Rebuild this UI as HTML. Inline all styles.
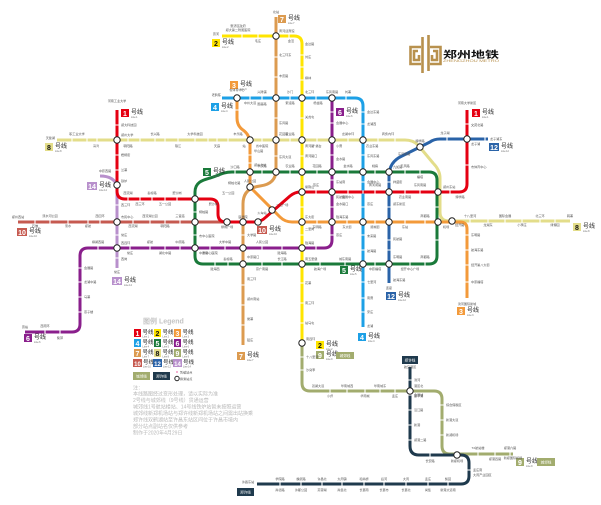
<!DOCTYPE html>
<html><head><meta charset="utf-8">
<style>
html,body{margin:0;padding:0;background:#fff;}
svg{display:block;}
text{font-family:"Liberation Sans","Noto Sans CJK SC",sans-serif;}
.n{font-size:7px;font-weight:bold;fill:#fff;text-anchor:middle;}
.nb{fill:#111;}
.h{font-size:6px;fill:#222;}
.e{font-size:2.4px;fill:#666;}
.s{font-size:3.1px;fill:#555;}
.m{text-anchor:middle;}
.r{text-anchor:end;}
.nt{font-size:5px;fill:#b8b8b8;}
.ln{fill:none;stroke-width:3;stroke-linejoin:round;stroke-linecap:butt;}
.tk{fill:none;stroke:#fff;stroke-width:1.1;}
.ic{fill:#fff;stroke:#222;stroke-width:1;}
</style></head><body>
<svg width="601" height="505" viewBox="0 0 601 505" xmlns="http://www.w3.org/2000/svg">
<rect width="601" height="505" fill="#fff"/>

<!-- Lines -->
<path class="ln" stroke="#C65A50" d="M18,222 H258"/>
<path class="ln" stroke="#E3DD8A" d="M57,140 H405 Q413,140 418,145 L433,163 Q440,170 440,178 V212 Q440,221 449,221 H570"/>
<path class="ln" stroke="#A2AC6E" d="M302,343 V383 Q302,391 310,391 H434 Q442,391 442,399 V446 Q442,454 450,454 H513"/>
<path class="ln" stroke="#1F3A4D" d="M410,367 V446 Q410,455 419,455 H461 Q469,455 469,463 V476 Q469,484 461,484 H257"/>
<path class="ln" stroke="#B890CC" d="M100,176 Q114,176 117,186 V268"/>
<path class="ln" stroke="#2A63A8" d="M389,283 V176 Q389,162 402,156 L420,147 L430,142 Q434,139 440,139 H488"/>
<path class="ln" stroke="#1A7A3A" d="M232,172 H429 Q437,172 437,180 V256 Q437,264 429,264 H203 Q195,264 195,256 V192 C195,182 203,180 210,178 C218,176 222,172 232,172 Z"/>
<path class="ln" stroke="#8A1F8C" d="M332,98 V240 Q332,248 324,248 H88 Q80,248 80,256 V324 Q80,332 72,332 H25"/>
<path class="ln" stroke="#DC9B50" d="M276,17 V170 Q276,184 260,186 Q243,188 243,204 V345"/>
<path class="ln" stroke="#F39A3A" d="M237,98 V118 Q237,126 243,130 Q250,135 250,144 V187 L280,217 Q285,222 292,222 H460 Q467,222 467,229 V298"/>
<path class="ln" stroke="#1DA0E6" d="M222,98 H355 Q363,98 363,106 V327"/>
<path class="ln" stroke="#FFE500" d="M222,36 H294 Q302,36 302,44 V343"/>
<path class="ln" stroke="#E50012" d="M467,110 V184 Q467,192 459,192 H300 Q295,192 290,196 L266,217 Q261,222 255,222 H226 Q218,222 218,214 V207 Q218,199 210,199 H125 Q117,199 117,191 V110"/>

<!-- Station ticks -->
<path class="tk" d="
M242,34.2v3.6 M258,34.2v3.6 M289,34.2v3.6
M250,96.2v3.6 M262,96.2v3.6 M290,96.2v3.6 M316,96.2v3.6 M346,96.2v3.6
M72,138.2v3.6 M87,138.2v3.6 M97,138.2v3.6 M128,138.2v3.6 M140,138.2v3.6 M155,138.2v3.6 M165,138.2v3.6 M178,138.2v3.6 M195,138.2v3.6 M208,138.2v3.6 M217,138.2v3.6 M228,138.2v3.6 M262,138.2v3.6 M290,138.2v3.6 M317,138.2v3.6 M348,138.2v3.6 M378,138.2v3.6 M395,138.2v3.6
M470,219.2v3.6 M488,219.2v3.6 M505,219.2v3.6 M522,219.2v3.6 M540,219.2v3.6 M555,219.2v3.6
M128,197.2v3.6 M140,197.2v3.6 M152,197.2v3.6 M165,197.2v3.6 M177,197.2v3.6
M316,190.2v3.6 M348,190.2v3.6 M363,190.2v3.6 M375,190.2v3.6 M405,190.2v3.6 M420,190.2v3.6 M450,190.2v3.6
M35,220.2v3.6 M50,220.2v3.6 M68,220.2v3.6 M88,220.2v3.6 M100,220.2v3.6 M133,220.2v3.6 M150,220.2v3.6 M165,220.2v3.6 M180,220.2v3.6
M98,246.2v3.6 M130,246.2v3.6 M150,246.2v3.6 M165,246.2v3.6 M180,246.2v3.6 M210,246.2v3.6 M225,246.2v3.6 M262,246.2v3.6 M282,246.2v3.6 M316,246.2v3.6
M45,330.2v3.6 M60,330.2v3.6
M235,170.2v3.6 M262,170.2v3.6 M290,170.2v3.6 M317,170.2v3.6 M348,170.2v3.6 M375,170.2v3.6 M405,170.2v3.6 M420,170.2v3.6
M215,262.2v3.6 M228,262.2v3.6 M262,262.2v3.6 M282,262.2v3.6 M320,262.2v3.6 M345,262.2v3.6 M375,262.2v3.6 M410,262.2v3.6 M425,262.2v3.6
M317,220.2v3.6 M347,220.2v3.6 M375,220.2v3.6 M405,220.2v3.6 M425,220.2v3.6
M447,137.2v3.6 M485,137.2v3.6
M330,389.2v3.6 M347,389.2v3.6 M365,389.2v3.6 M380,389.2v3.6 M395,389.2v3.6
M478,452.2v3.6 M495,452.2v3.6 M510,452.2v3.6
M430,453.2v3.6
M280,482.2v3.6 M301,482.2v3.6 M322,482.2v3.6 M342,482.2v3.6 M364,482.2v3.6 M384,482.2v3.6 M406,482.2v3.6 M428,482.2v3.6 M448,482.2v3.6
M274.2,57h3.6 M274.2,77h3.6 M274.2,118h3.6 M274.2,156h3.6
M241.2,235h3.6 M241.2,285h3.6 M241.2,305h3.6 M241.2,325h3.6
M300.2,55h3.6 M300.2,67h3.6 M300.2,80h3.6 M300.2,118h3.6 M300.2,156h3.6 M300.2,207h3.6 M300.2,235h3.6 M300.2,283h3.6 M300.2,303h3.6 M300.2,323h3.6
M361.2,112h3.6 M361.2,124h3.6 M361.2,155h3.6 M361.2,182h3.6 M361.2,207h3.6 M361.2,235h3.6 M361.2,250h3.6 M361.2,282h3.6 M361.2,298h3.6 M361.2,312h3.6
M235.2,110h3.6 M248.2,155h3.6 M248.2,163h3.6
M330.2,112h3.6 M330.2,123h3.6 M330.2,155h3.6 M330.2,180h3.6 M330.2,207h3.6 M330.2,235h3.6
M78.2,268h3.6 M78.2,282h3.6 M78.2,297h3.6 M78.2,312h3.6
M193.2,212h3.6 M193.2,235h3.6 M435.2,207h3.6 M435.2,240h3.6
M115.2,125h3.6 M115.2,155h3.6 M115.2,170h3.6 M115.2,205h3.6 M115.2,235h3.6 M115.2,258h3.6
M387.2,182h3.6 M387.2,207h3.6 M387.2,240h3.6 M387.2,250h3.6
M465.2,124h3.6 M465.2,165h3.6
M465.2,235h3.6 M465.2,250h3.6 M465.2,265h3.6 M465.2,282h3.6
M300.2,357h3.6 M300.2,370h3.6 M440.2,405h3.6 M440.2,420h3.6 M440.2,435h3.6
M408.2,380h3.6 M408.2,395h3.6 M408.2,410h3.6 M408.2,425h3.6 M408.2,440h3.6 M467.2,470h3.6"/>

<!-- Interchange stations -->
<g class="ic">
<circle cx="276" cy="36" r="3.2"/><circle cx="237" cy="98" r="3.2"/><circle cx="276" cy="98" r="3.2"/><circle cx="302" cy="98" r="3.2"/><circle cx="332" cy="98" r="3.2"/>
<circle cx="117" cy="140" r="3.2"/><circle cx="250" cy="140" r="3.2"/><circle cx="276" cy="140" r="3.2"/><circle cx="302" cy="140" r="3.2"/><circle cx="332" cy="140" r="3.2"/><circle cx="363" cy="140" r="3.2"/><circle cx="420" cy="147" r="3.2"/><circle cx="467" cy="139" r="3.2"/>
<circle cx="250" cy="172" r="3.2"/><circle cx="276" cy="172" r="3.2"/><circle cx="302" cy="172" r="3.2"/><circle cx="332" cy="172" r="3.2"/><circle cx="363" cy="172" r="3.2"/><circle cx="389" cy="172" r="3.2"/>
<circle cx="117" cy="185" r="3.2"/><circle cx="250" cy="187" r="3.2"/><circle cx="195" cy="199" r="3.2"/><circle cx="272" cy="210" r="3.2"/><circle cx="302" cy="192" r="3.2"/><circle cx="332" cy="192" r="3.2"/><circle cx="389" cy="192" r="3.2"/><circle cx="438" cy="192" r="3.2"/>
<circle cx="117" cy="222" r="3.2"/><circle cx="195" cy="222" r="3.2"/><circle cx="227" cy="222" r="3.2"/><circle cx="243" cy="222" r="3.2"/><circle cx="258" cy="222" r="3.2"/><circle cx="302" cy="222" r="3.2"/><circle cx="332" cy="222" r="3.2"/><circle cx="363" cy="222" r="3.2"/><circle cx="389" cy="222" r="3.2"/><circle cx="438" cy="222" r="3.2"/><circle cx="452" cy="221" r="3.2"/>
<circle cx="117" cy="248" r="3.2"/><circle cx="195" cy="248" r="3.2"/><circle cx="243" cy="248" r="3.2"/><circle cx="302" cy="248" r="3.2"/>
<circle cx="243" cy="264" r="3.2"/><circle cx="302" cy="264" r="3.2"/><circle cx="363" cy="264" r="3.2"/><circle cx="389" cy="264" r="3.2"/>
<circle cx="302" cy="343" r="3.2"/><circle cx="410" cy="391" r="3.2"/><circle cx="457" cy="455" r="3.2"/>
</g>

<!-- Line badges -->
<g>
<rect x="278" y="15" width="8" height="8" fill="#DC9B50"/><text class="n" x="282" y="22">7</text><text class="h" x="288" y="20">号线</text><text class="e" x="288" y="24">Line 7</text>
<rect x="212" y="39" width="8" height="8" fill="#FFE500"/><text class="n nb" x="216" y="46">2</text><text class="h" x="222" y="44">号线</text><text class="e" x="222" y="48">Line 2</text>
<rect x="230" y="81" width="8" height="8" fill="#F39A3A"/><text class="n" x="234" y="88">3</text><text class="h" x="240" y="86">号线</text><text class="e" x="240" y="90">Line 3</text>
<rect x="211" y="103" width="8" height="8" fill="#1DA0E6"/><text class="n" x="215" y="110">4</text><text class="h" x="221" y="108">号线</text><text class="e" x="221" y="112">Line 4</text>
<rect x="121" y="109" width="8" height="8" fill="#E50012"/><text class="n" x="125" y="116">1</text><text class="h" x="131" y="114">号线</text><text class="e" x="131" y="118">Line 1</text>
<rect x="45" y="143" width="8" height="8" fill="#E3DD8A"/><text class="n nb" x="49" y="150">8</text><text class="h" x="55" y="148">号线</text><text class="e" x="55" y="152">Line 8</text>
<rect x="336" y="108" width="8" height="8" fill="#8A1F8C"/><text class="n" x="340" y="115">6</text><text class="h" x="346" y="113">号线</text><text class="e" x="346" y="117">Line 6</text>
<rect x="472" y="109" width="8" height="8" fill="#E50012"/><text class="n" x="476" y="116">1</text><text class="h" x="482" y="114">号线</text><text class="e" x="482" y="118">Line 1</text>
<rect x="489" y="143" width="10" height="8" fill="#2A63A8"/><text class="n" x="494" y="150">12</text><text class="h" x="501" y="148">号线</text><text class="e" x="501" y="152">Line 12</text>
<rect x="87" y="182" width="10" height="8" fill="#B890CC"/><text class="n" x="92" y="189">14</text><text class="h" x="99" y="187">号线</text><text class="e" x="99" y="191">Line 14</text>
<rect x="17" y="228" width="10" height="8" fill="#C65A50"/><text class="n" x="22" y="235">10</text><text class="h" x="29" y="233">号线</text><text class="e" x="29" y="237">Line 10</text>
<rect x="112" y="277" width="10" height="8" fill="#B890CC"/><text class="n" x="117" y="284">14</text><text class="h" x="124" y="282">号线</text><text class="e" x="124" y="286">Line 14</text>
<rect x="24" y="334" width="8" height="8" fill="#8A1F8C"/><text class="n" x="28" y="341">6</text><text class="h" x="34" y="339">号线</text><text class="e" x="34" y="343">Line 6</text>
<rect x="203" y="168" width="8" height="8" fill="#1A7A3A"/><text class="n" x="207" y="175">5</text><text class="h" x="213" y="173">号线</text><text class="e" x="213" y="177">Line 5</text>
<rect x="257" y="226" width="10" height="8" fill="#C65A50"/><text class="n" x="262" y="233">10</text><text class="h" x="269" y="231">号线</text><text class="e" x="269" y="235">Line 10</text>
<rect x="358" y="333" width="8" height="8" fill="#1DA0E6"/><text class="n" x="362" y="340">4</text><text class="h" x="368" y="338">号线</text><text class="e" x="368" y="342">Line 4</text>
<rect x="386" y="292" width="10" height="8" fill="#2A63A8"/><text class="n" x="391" y="299">12</text><text class="h" x="398" y="297">号线</text><text class="e" x="398" y="301">Line 12</text>
<rect x="457" y="307" width="8" height="8" fill="#F39A3A"/><text class="n" x="461" y="314">3</text><text class="h" x="467" y="312">号线</text><text class="e" x="467" y="316">Line 3</text>
<rect x="237" y="352" width="8" height="8" fill="#DC9B50"/><text class="n" x="241" y="359">7</text><text class="h" x="247" y="357">号线</text><text class="e" x="247" y="361">Line 7</text>
<rect x="340" y="266" width="8" height="8" fill="#1A7A3A"/><text class="n" x="344" y="273">5</text><text class="h" x="350" y="271">号线</text><text class="e" x="350" y="275">Line 5</text>
<rect x="573" y="223" width="8" height="8" fill="#E3DD8A"/><text class="n nb" x="577" y="230">8</text><text class="h" x="583" y="228">号线</text><text class="e" x="583" y="232">Line 8</text>
<rect x="316" y="341" width="8" height="8" fill="#FFE500"/><text class="n nb" x="320" y="348">2</text><text class="h" x="326" y="346">号线</text><text class="e" x="326" y="350">Line 2</text>
<rect x="316" y="351" width="8" height="8" fill="#A2AC6E"/><text class="n" x="320" y="358">9</text><text class="h" x="326" y="356">号线</text><text class="e" x="326" y="360">Line 9</text>
<rect x="336" y="352" width="18" height="7" fill="#A2AC6E"/><text x="345" y="357" style="font-size:3.6px;fill:#fff;text-anchor:middle">城郊线</text>
<rect x="516" y="458" width="8" height="8" fill="#A2AC6E"/><text class="n" x="520" y="465">9</text><text class="h" x="526" y="463">号线</text><text class="e" x="526" y="467">Line 9</text>
<rect x="537" y="458" width="18" height="8" fill="#A2AC6E"/><text x="546" y="463.5" style="font-size:3.6px;fill:#fff;text-anchor:middle">城郊线</text>
<rect x="402" y="356" width="16" height="8" fill="#1F3A4D"/><text x="410" y="361.5" style="font-size:3.6px;fill:#fff;text-anchor:middle">郑许线</text>
<rect x="237" y="488" width="17" height="8" fill="#1F3A4D"/><text x="245.5" y="493.5" style="font-size:3.6px;fill:#fff;text-anchor:middle">郑许线</text>
</g>

<!-- Station labels -->
<g class="s">
<text x="276" y="13" class="m">北站</text>
<text x="219" y="35" class="r">贾河</text>
<text x="238" y="27" class="m">惠济区政府</text>
<text x="238" y="31" class="m">郑大第二附属医院</text>
<text x="258" y="42" class="m">毛庄</text>
<text x="279" y="32">黄河迎宾馆</text>
<text x="291" y="42" class="m">金洼</text>
<text x="305" y="45">金达路</text>
<text x="279" y="56">北三环东</text>
<text x="305" y="58">刘庄</text>
<text x="279" y="77">丰庆路</text>
<text x="305" y="79">柳林</text>
<text x="221" y="96" class="r">老鸦陈</text>
<text x="237" y="91" class="m">省体育中心</text>
<text x="262" y="93" class="m">兴隆铺</text>
<text x="290" y="93" class="m">沙门</text>
<text x="305" y="93">北三环</text>
<text x="332" y="93" class="m">东风南路</text>
<text x="348" y="93" class="m">刘寨</text>
<text x="250" y="104" class="m">中州大道</text>
<text x="262" y="105" class="m">国基路</text>
<text x="290" y="104" class="m">索凌路</text>
<text x="318" y="104" class="m">杨金路</text>
<text x="117" y="102" class="m">河南工业大学</text>
<text x="121" y="126">郑大科技园</text>
<text x="121" y="136">郑州大学</text>
<text x="121" y="156">梧桐街</text>
<text x="121" y="171">兰寨</text>
<text x="55" y="139" class="r">天健湖</text>
<text x="77" y="135" class="m">职工业大学</text>
<text x="96" y="147" class="m">冯湾</text>
<text x="128" y="147" class="m">朝阳路</text>
<text x="155" y="135" class="m">长兴路</text>
<text x="178" y="147" class="m">琅江</text>
<text x="195" y="135" class="m">大学科技园</text>
<text x="217" y="147" class="m">天庭</text>
<text x="238" y="135" class="m">丰乐路</text>
<text x="244" y="147" class="m">站</text>
<text x="279" y="135">花园路</text>
<text x="262" y="147" class="m">省中医院</text>
<text x="305" y="147">黄河路</text>
<text x="290" y="135" class="m">农业路</text>
<text x="317" y="147" class="m">广播台</text>
<text x="336" y="147">小曹</text>
<text x="348" y="135" class="m">龙湖中环</text>
<text x="366" y="147">农业东路</text>
<text x="388" y="135" class="m">商务内环</text>
<text x="279" y="124">东风路</text>
<text x="279" y="158">东风大道</text>
<text x="305" y="118">关虎屯</text>
<text x="305" y="157">黄河路口</text>
<text x="336" y="124">会展中心</text>
<text x="336" y="160">金水路</text>
<text x="336" y="183">东站南</text>
<text x="367" y="113">金达东路</text>
<text x="367" y="125">龙湖西</text>
<text x="367" y="157">东风东路</text>
<text x="367" y="183">会展中心</text>
<text x="367" y="205">燕庄</text>
<text x="367" y="237">未来路</text>
<text x="367" y="252">航海路</text>
<text x="367" y="283">七里河</text>
<text x="367" y="299">南曹</text>
<text x="367" y="313">宋庄</text>
<text x="367" y="327">龙湖</text>
<text x="393" y="168">九如路</text>
<text x="393" y="183">祥盛街</text>
<text x="393" y="205">郑东新区</text>
<text x="393" y="240">民航路</text>
<text x="393" y="258">东明路</text>
<text x="393" y="281">航海东路</text>
<text x="389" y="289" class="m">连霍</text>
<text x="420" y="142" class="m">博学路</text>
<text x="398" y="155">东风南路</text>
<text x="445" y="134" class="m">龙子湖</text>
<text x="467" y="104" class="m">河南大学新区</text>
<text x="471" y="126">文苑北路</text>
<text x="471" y="145">龙子湖</text>
<text x="471" y="168">市体育中心</text>
<text x="490" y="140">龙子湖东</text>
<text x="460" y="198" class="m">博学路</text>
<text x="443" y="188">郑州东站</text>
<text x="420" y="186" class="m">东风南路</text>
<text x="405" y="198" class="m">农业南路</text>
<text x="375" y="186" class="m">黄河南路</text>
<text x="348" y="198" class="m">会展中心</text>
<text x="316" y="186" class="m">燕庄</text>
<text x="336" y="198">民航路</text>
<text x="305" y="188">紫荆山</text>
<text x="443" y="228">机场</text>
<text x="455" y="226">经开路</text>
<text x="470" y="217" class="m">十八里河</text>
<text x="488" y="226" class="m">龙湖东</text>
<text x="505" y="217" class="m">国际会展</text>
<text x="522" y="226" class="m">小李庄</text>
<text x="540" y="217" class="m">北三环</text>
<text x="555" y="226" class="m">绿博园</text>
<text x="570" y="217" class="m">韩寨</text>
<text x="471" y="236">东明路</text>
<text x="471" y="251">航海东路</text>
<text x="471" y="266">经开第八大街</text>
<text x="471" y="283">中原福塔</text>
<text x="467" y="305" class="m">滨河国际新城</text>
<text x="317" y="228" class="m">东明路</text>
<text x="347" y="228" class="m">东大街</text>
<text x="375" y="228" class="m">顺城街</text>
<text x="405" y="228" class="m">东站</text>
<text x="425" y="217" class="m">商都路</text>
<text x="336" y="218">陇海东路</text>
<text x="305" y="218">东大街</text>
<text x="305" y="230">二里岗</text>
<text x="305" y="244">陇海路</text>
<text x="305" y="260">南五里堡</text>
<text x="305" y="284">花寨</text>
<text x="305" y="304">南三环</text>
<text x="305" y="324">站马屯</text>
<text x="306" y="340">南四环</text>
<text x="306" y="358">十八里河</text>
<text x="306" y="371">沙窝李</text>
<text x="235" y="168" class="m">沙口路</text>
<text x="262" y="167" class="m">丰庆路</text>
<text x="290" y="167" class="m">农业路</text>
<text x="317" y="167" class="m">花园路</text>
<text x="348" y="167" class="m">金水路</text>
<text x="375" y="167" class="m">姚砦</text>
<text x="405" y="167" class="m">玉凤路</text>
<text x="420" y="178" class="m">福塔</text>
<text x="215" y="270" class="m">陇海西</text>
<text x="228" y="260" class="m">秦岭路</text>
<text x="262" y="270" class="m">京广南路</text>
<text x="282" y="260" class="m">长江路</text>
<text x="320" y="270" class="m">航海广场</text>
<text x="345" y="260" class="m">城东南路</text>
<text x="375" y="270" class="m">中原福塔</text>
<text x="410" y="270" class="m">经开中心广场</text>
<text x="425" y="258" class="m">商都路</text>
<text x="199" y="213">桐柏路</text>
<text x="199" y="237">市中心医院</text>
<text x="199" y="254">中原路</text>
<text x="227" y="228" class="m">绿城广场</text>
<text x="243" y="218" class="m">医学院</text>
<text x="262" y="214" class="m">火车站</text>
<text x="276" y="206">二七广场</text>
<text x="250" y="182" class="m">人民公园</text>
<text x="254" y="152">华山路</text>
<text x="254" y="166">郑州北站</text>
<text x="222" y="194">五一公园</text>
<text x="218" y="205" class="r">碧沙岗</text>
<text x="228" y="184">桐柏北路</text>
<text x="247" y="236">大学路</text>
<text x="247" y="258">中原路口</text>
<text x="247" y="280">南三环</text>
<text x="247" y="300">郑州南站</text>
<text x="247" y="320">侯寨</text>
<text x="247" y="341">猛庄</text>
<text x="128" y="194" class="m">西流湖</text>
<text x="140" y="205" class="m">西三环</text>
<text x="152" y="194" class="m">秦岭路</text>
<text x="165" y="205" class="m">五一公园</text>
<text x="177" y="194" class="m">碧沙岗</text>
<text x="121" y="182">铁炉</text>
<text x="105" y="172" class="m">中原西路</text>
<text x="18" y="218" class="m">郑州西站</text>
<text x="35" y="227" class="m">石佛</text>
<text x="50" y="217" class="m">须水河公园</text>
<text x="68" y="227" class="m">须水</text>
<text x="88" y="227" class="m">郑航</text>
<text x="100" y="217" class="m">西四环</text>
<text x="121" y="218">市民中心</text>
<text x="133" y="227" class="m">西流湖</text>
<text x="150" y="217" class="m">西流湖公园</text>
<text x="165" y="227" class="m">朝阳路</text>
<text x="180" y="217" class="m">三官庙</text>
<text x="121" y="244">西四环</text>
<text x="121" y="206">西三环</text>
<text x="121" y="236">常庄</text>
<text x="121" y="260">西岗</text>
<text x="117" y="273" class="m">常庄</text>
<text x="98" y="243" class="m">柳湖西路</text>
<text x="130" y="254" class="m">常庄</text>
<text x="150" y="243" class="m">郑航</text>
<text x="165" y="254" class="m">湖北中路</text>
<text x="180" y="243" class="m">中原路</text>
<text x="210" y="254" class="m">市中心医院</text>
<text x="225" y="243" class="m">大学中路</text>
<text x="262" y="243" class="m">人民公园</text>
<text x="282" y="254" class="m">陇海路</text>
<text x="84" y="269">会展路</text>
<text x="84" y="283">龙湖中路</text>
<text x="84" y="298">马寨</text>
<text x="84" y="313">燕子楼</text>
<text x="25" y="328" class="m">贾峪</text>
<text x="45" y="327" class="m">西南环</text>
<text x="60" y="339" class="m">柴郭</text>
<text x="336" y="205">金水路口</text>
<text x="336" y="236">燕庄</text>
<text x="318" y="387" class="m">双湖大道</text>
<text x="330" y="397" class="m">小乔</text>
<text x="347" y="387" class="m">华南城西</text>
<text x="365" y="397" class="m">华南城</text>
<text x="380" y="387" class="m">华南城东</text>
<text x="395" y="397" class="m">孟庄</text>
<text x="414" y="387">港区北</text>
<text x="414" y="397">康平湖</text>
<text x="446" y="406">综合保税区</text>
<text x="446" y="421">新港大道</text>
<text x="446" y="436">新郑机场</text>
<text x="478" y="449" class="m">T2航站楼</text>
<text x="495" y="460" class="m">郑港四路</text>
<text x="510" y="449" class="m">郑港六路</text>
<text x="513" y="459" class="m">新郑国际机场</text>
<text x="410" y="368" class="m">航空港区</text>
<text x="414" y="381">滨河</text>
<text x="414" y="396">会展城</text>
<text x="414" y="411">沿江路</text>
<text x="414" y="426">新港</text>
<text x="414" y="441">郑港二路</text>
<text x="430" y="462" class="m">长安路</text>
<text x="457" y="462" class="m">新郑机场</text>
<text x="473" y="471">孟庄南</text>
<text x="473" y="476">大周产业园区</text>
<text x="448" y="480" class="m">梨园</text>
<text x="448" y="491" class="m">新港大道南</text>
<text x="428" y="480" class="m">孟庄</text>
<text x="428" y="491" class="m">尚集</text>
<text x="406" y="480" class="m">大周</text>
<text x="406" y="491" class="m">长葛北</text>
<text x="384" y="480" class="m">后河</text>
<text x="384" y="491" class="m">长葛市</text>
<text x="364" y="480" class="m">和尚桥</text>
<text x="364" y="491" class="m">长葛南</text>
<text x="342" y="480" class="m">大周镇</text>
<text x="342" y="491" class="m">尚集北</text>
<text x="322" y="480" class="m">许昌北</text>
<text x="322" y="491" class="m">芙蓉湖</text>
<text x="301" y="480" class="m">魏武路</text>
<text x="301" y="491" class="m">许都公园</text>
<text x="280" y="480" class="m">学院路</text>
<text x="280" y="491" class="m">尚德路</text>
<text x="248" y="483" class="m">许昌东站</text>
</g>

<!-- Legend -->
<text x="143" y="323.5" style="font-size:7px;font-weight:bold;fill:#c4c4c4">图例 Legend</text>
<g>
<rect x="134" y="329" width="7" height="8" fill="#E50012"/><text class="n" x="137.5" y="336">1</text><text class="h" x="142.5" y="334" style="font-size:5.5px">号线</text><text class="e" x="142.5" y="337.5">Line 1</text>
<rect x="154" y="329" width="7" height="8" fill="#FFE500"/><text class="n nb" x="157.5" y="336">2</text><text class="h" x="162.5" y="334" style="font-size:5.5px">号线</text><text class="e" x="162.5" y="337.5">Line 2</text>
<rect x="174" y="329" width="7" height="8" fill="#F39A3A"/><text class="n" x="177.5" y="336">3</text><text class="h" x="182.5" y="334" style="font-size:5.5px">号线</text><text class="e" x="182.5" y="337.5">Line 3</text>
<rect x="134" y="339" width="7" height="8" fill="#1DA0E6"/><text class="n" x="137.5" y="346">4</text><text class="h" x="142.5" y="344" style="font-size:5.5px">号线</text><text class="e" x="142.5" y="347.5">Line 4</text>
<rect x="154" y="339" width="7" height="8" fill="#1A7A3A"/><text class="n" x="157.5" y="346">5</text><text class="h" x="162.5" y="344" style="font-size:5.5px">号线</text><text class="e" x="162.5" y="347.5">Line 5</text>
<rect x="174" y="339" width="7" height="8" fill="#8A1F8C"/><text class="n" x="177.5" y="346">6</text><text class="h" x="182.5" y="344" style="font-size:5.5px">号线</text><text class="e" x="182.5" y="347.5">Line 6</text>
<rect x="134" y="349" width="7" height="8" fill="#DC9B50"/><text class="n" x="137.5" y="356">7</text><text class="h" x="142.5" y="354" style="font-size:5.5px">号线</text><text class="e" x="142.5" y="357.5">Line 7</text>
<rect x="154" y="349" width="7" height="8" fill="#E3DD8A"/><text class="n nb" x="157.5" y="356">8</text><text class="h" x="162.5" y="354" style="font-size:5.5px">号线</text><text class="e" x="162.5" y="357.5">Line 8</text>
<rect x="174" y="349" width="7" height="8" fill="#A2AC6E"/><text class="n" x="177.5" y="356">9</text><text class="h" x="182.5" y="354" style="font-size:5.5px">号线</text><text class="e" x="182.5" y="357.5">Line 9</text>
<rect x="133" y="359" width="9" height="8" fill="#C65A50"/><text class="n" x="137.5" y="366" style="font-size:6px">10</text><text class="h" x="143" y="364" style="font-size:5.5px">号线</text><text class="e" x="143" y="367.5">Line 10</text>
<rect x="153" y="359" width="9" height="8" fill="#2A63A8"/><text class="n" x="157.5" y="366" style="font-size:6px">12</text><text class="h" x="163" y="364" style="font-size:5.5px">号线</text><text class="e" x="163" y="367.5">Line 12</text>
<rect x="173" y="359" width="9" height="8" fill="#B890CC"/><text class="n" x="177.5" y="366" style="font-size:6px">14</text><text class="h" x="183" y="364" style="font-size:5.5px">号线</text><text class="e" x="183" y="367.5">Line 14</text>
<rect x="133" y="372" width="17" height="8" fill="#A2AC6E"/><text x="141.5" y="377.5" style="font-size:3.6px;fill:#fff;text-anchor:middle">城郊线</text>
<rect x="153" y="372" width="17" height="8" fill="#1F3A4D"/><text x="161.5" y="377.5" style="font-size:3.6px;fill:#fff;text-anchor:middle">郑许线</text>
<circle cx="177" cy="372" r="0.9" fill="#f07ab0"/><text class="s" x="180" y="373.5">暂缓站点</text>
<circle cx="177" cy="378.5" r="2.2" class="ic"/><text class="s" x="180" y="380">换乘站点</text>
</g>
<g class="nt">
<text x="133" y="389.5">注：</text>
<text x="133" y="395.5">本线路图经过变形处理，请以实际为准</text>
<text x="133" y="402">2号线与城郊线（9号线）贯通运营</text>
<text x="133" y="408.5">城郊线1号航站楼站、14号线铁炉站暂未按照运营</text>
<text x="133" y="415">城郊线新郑机场站与郑许线新郑机场站之间需出站换乘</text>
<text x="133" y="421.5">郑许线双鹤湖站至许昌东站区间位于许昌市境内</text>
<text x="133" y="428">部分站点副站名仅供参考</text>
<text x="133" y="434.5">制作于2020年4月29日</text>
</g>

<!-- Logo -->
<g fill="none" stroke="#B8914E" stroke-width="2.6" stroke-linejoin="miter">
<path d="M422.5,37 V73 M428.5,35 V71"/>
<path d="M421,47 H410.5 V64 H421"/>
<path d="M418,51 H414 V60 H419 V55"/>
<path d="M430,47 H440.5 V64 H430"/>
<path d="M433,51 H437 V60 H432 V55"/>
</g>
<text transform="translate(443,58) scale(1,0.72)" x="0" y="0" textLength="56" lengthAdjust="spacingAndGlyphs" style="font-size:13.5px;font-weight:bold;fill:#111">郑州地铁</text>
<text x="443" y="61.8" textLength="56" lengthAdjust="spacingAndGlyphs" style="font-size:3.6px;fill:#B8914E">ZHENGZHOU METRO</text>
</svg>
</body></html>
